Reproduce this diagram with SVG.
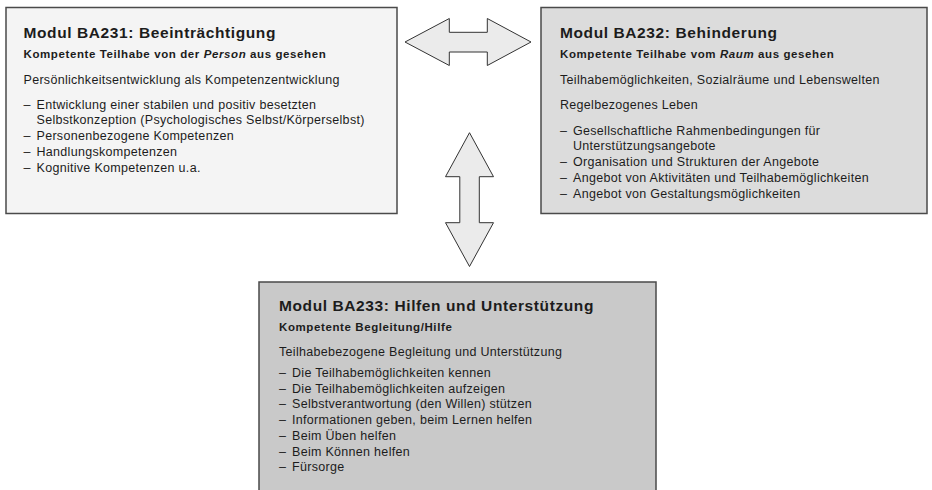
<svg xmlns="http://www.w3.org/2000/svg" width="932" height="490" viewBox="0 0 932 490">
<style>
.box{stroke:#4a4a4a;stroke-width:1.5}
.b1{fill:#f4f4f4}.b2{fill:#dcdcdc}.b3{fill:#c9c9c9}
.arr{fill:#ebebeb;stroke:#333;stroke-width:1;stroke-linejoin:miter}
text{font-family:"Liberation Sans",Arial,sans-serif;fill:#1c1c1c}
.t{font-size:15.5px;font-weight:bold;letter-spacing:0.6px}
.s{font-size:11.5px;font-weight:bold;letter-spacing:0.6px}
.p{font-size:12.5px;letter-spacing:0.3px}
.i{font-style:italic}
</style>
<rect width="932" height="490" fill="#ffffff"/>
<g id="connectors">
<path class="arr" d="M405,42 L449.3,18.5 L449.3,32.3 L487.3,32.3 L487.3,18.5 L531,42 L487.3,65.5 L487.3,52 L449.3,52 L449.3,65.5 Z"/>
<path class="arr" d="M469.5,132.7 L493.5,176.7 L479.3,176.7 L479.3,222.7 L493.5,222.7 L469.5,266.5 L445.5,222.7 L459.8,222.7 L459.8,176.7 L445.5,176.7 Z"/>
</g>
<g id="ba231">
<rect class="box b1" x="6" y="7.5" width="391" height="206"/>
<text class="t" x="23.5" y="37.5">Modul BA231: Beeinträchtigung</text>
<text class="s" x="23.5" y="57.5">Kompetente Teilhabe von der <tspan class="i">Person</tspan> aus gesehen</text>
<text class="p" x="23.5" y="83.5">Persönlichkeitsentwicklung als Kompetenzentwicklung</text>
<text class="p" x="23.5" y="108.5">–</text><text class="p" x="36.5" y="108.5">Entwicklung einer stabilen und positiv besetzten</text>
<text class="p" x="36.5" y="124.2">Selbstkonzeption (Psychologisches Selbst/Körperselbst)</text>
<text class="p" x="23.5" y="140">–</text><text class="p" x="36.5" y="140">Personenbezogene Kompetenzen</text>
<text class="p" x="23.5" y="155.7">–</text><text class="p" x="36.5" y="155.7">Handlungskompetenzen</text>
<text class="p" x="23.5" y="171.5">–</text><text class="p" x="36.5" y="171.5">Kognitive Kompetenzen u.a.</text>
</g>
<g id="ba232">
<rect class="box b2" x="541" y="7.5" width="386" height="206"/>
<text class="t" x="560" y="37.5">Modul BA232: Behinderung</text>
<text class="s" x="560" y="57.5">Kompetente Teilhabe vom <tspan class="i">Raum</tspan> aus gesehen</text>
<text class="p" x="560" y="83.5">Teilhabemöglichkeiten, Sozialräume und Lebenswelten</text>
<text class="p" x="560" y="109">Regelbezogenes Leben</text>
<text class="p" x="560" y="134.5">–</text><text class="p" x="573" y="134.5">Gesellschaftliche Rahmenbedingungen für</text>
<text class="p" x="573" y="150.2">Unterstützungsangebote</text>
<text class="p" x="560" y="166">–</text><text class="p" x="573" y="166">Organisation und Strukturen der Angebote</text>
<text class="p" x="560" y="181.7">–</text><text class="p" x="573" y="181.7">Angebot von Aktivitäten und Teilhabemöglichkeiten</text>
<text class="p" x="560" y="197.5">–</text><text class="p" x="573" y="197.5">Angebot von Gestaltungsmöglichkeiten</text>
</g>
<g id="ba233">
<rect class="box b3" x="259" y="282" width="397" height="220"/>
<text class="t" x="279" y="310.7">Modul BA233: Hilfen und Unterstützung</text>
<text class="s" x="279" y="330.7">Kompetente Begleitung/Hilfe</text>
<text class="p" x="279" y="355.5">Teilhabebezogene Begleitung und Unterstützung</text>
<text class="p" x="279" y="377">–</text><text class="p" x="292" y="377">Die Teilhabemöglichkeiten kennen</text>
<text class="p" x="279" y="392.7">–</text><text class="p" x="292" y="392.7">Die Teilhabemöglichkeiten aufzeigen</text>
<text class="p" x="279" y="408.4">–</text><text class="p" x="292" y="408.4">Selbstverantwortung (den Willen) stützen</text>
<text class="p" x="279" y="424.1">–</text><text class="p" x="292" y="424.1">Informationen geben, beim Lernen helfen</text>
<text class="p" x="279" y="439.8">–</text><text class="p" x="292" y="439.8">Beim Üben helfen</text>
<text class="p" x="279" y="455.5">–</text><text class="p" x="292" y="455.5">Beim Können helfen</text>
<text class="p" x="279" y="471.2">–</text><text class="p" x="292" y="471.2">Fürsorge</text>
</g>
</svg>
